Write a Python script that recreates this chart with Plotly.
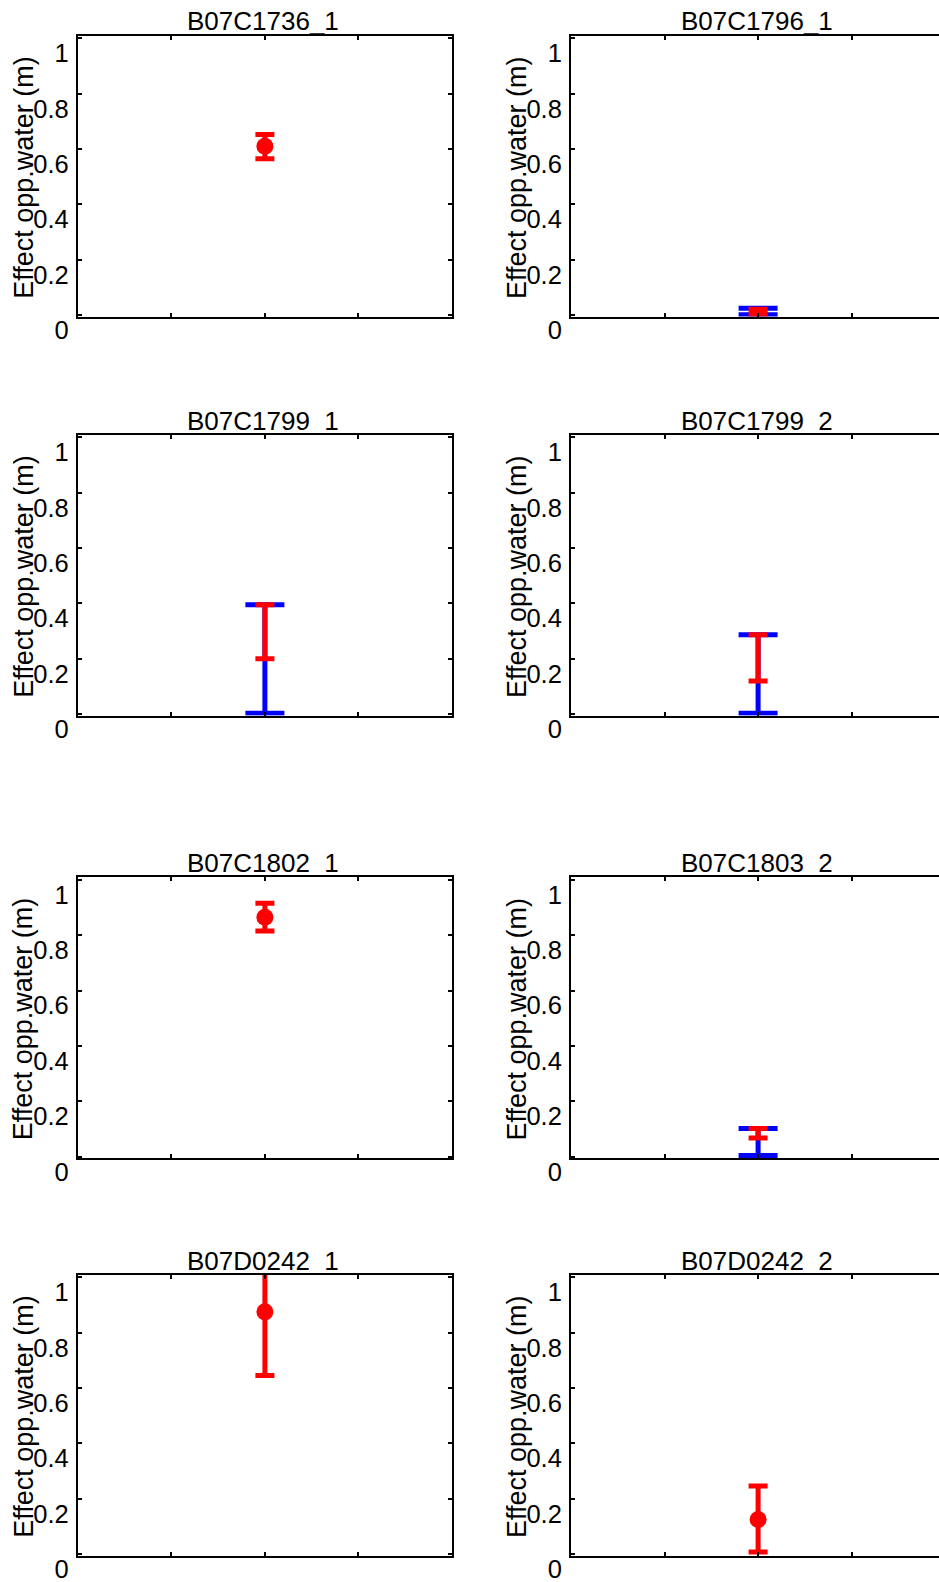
import plotly.graph_objects as go

# Effect on open water per station: red = estimate (optional dot) with its
# lower/upper bound, blue = wider range shown behind it where available.
stations = ["B07C1736_1", "B07C1796_1", "B07C1799_1", "B07C1799_2",
            "B07C1802_1", "B07C1803_2", "B07D0242_1", "B07D0242_2"]
red_mid = [0.61, None, None, None, 0.865, None, 0.875, 0.125]
red_low = [0.565, 0.003, 0.20, 0.12, 0.815, 0.067, 0.645, 0.008]
red_high = [0.652, 0.021, 0.395, 0.287, 0.915, 0.102, 1.105, 0.246]
blue_low = [None, 0.001, 0.003, 0.003, None, 0.004, None, None]
blue_high = [None, 0.025, 0.395, 0.287, None, 0.102, None, None]

y_tick_vals = [0, 0.2, 0.4, 0.6, 0.8, 1]
y_tick_text = ["0", "0.2", "0.4", "0.6", "0.8", "1"]
x_tick_vals = [0, 0.5, 1, 1.5, 2]
y_title = "Effect opp.water (m)"
x_station = 1.0

W, H = 939, 1582
FONT = "Liberation Sans, Arial, sans-serif"
RED, BLUE = "#ff0000", "#0000ff"

col_left = [77.8, 571.0]
box_w = 374.2
row_top = [35.5, 434.5, 877.0, 1274.5]
box_h = 281.0
y_range = [-0.005, 1.01]


def px_x(v):
    return v / W


def px_y(v):
    return 1 - v / H


fig = go.Figure()
annotations = []

for i, name in enumerate(stations):
    r, c = divmod(i, 2)
    left = col_left[c]
    right = min(left + box_w, W)
    top = row_top[r]
    bottom = top + box_h
    n = i + 1
    xa = "x" if n == 1 else f"x{n}"
    ya = "y" if n == 1 else f"y{n}"

    # wider (blue) range first so the estimate sits on top
    if blue_low[i] is not None:
        mid = (blue_low[i] + blue_high[i]) / 2
        fig.add_trace(go.Scatter(
            x=[x_station], y=[mid], mode="markers",
            marker=dict(size=0, color=BLUE, opacity=0),
            error_y=dict(type="data", symmetric=False,
                         array=[blue_high[i] - mid],
                         arrayminus=[mid - blue_low[i]],
                         color=BLUE, thickness=5, width=19.5),
            xaxis=xa, yaxis=ya, showlegend=False, hoverinfo="skip"))

    has_dot = red_mid[i] is not None
    centre = red_mid[i] if has_dot else (red_low[i] + red_high[i]) / 2
    fig.add_trace(go.Scatter(
        x=[x_station], y=[centre], mode="markers",
        marker=dict(size=17 if has_dot else 0, color=RED,
                    opacity=1 if has_dot else 0, line=dict(width=0)),
        error_y=dict(type="data", symmetric=False,
                     array=[red_high[i] - centre],
                     arrayminus=[centre - red_low[i]],
                     color=RED, thickness=5, width=9.5),
        xaxis=xa, yaxis=ya, showlegend=False, hoverinfo="skip"))

    x_span = 2 * (right - left) / box_w
    xkey = "xaxis" if n == 1 else f"xaxis{n}"
    ykey = "yaxis" if n == 1 else f"yaxis{n}"
    fig.layout[xkey] = dict(
        domain=[px_x(left), px_x(right)], range=[0, x_span], anchor=ya,
        tickvals=x_tick_vals, showticklabels=False, ticks="inside",
        ticklen=4, tickwidth=1.5, tickcolor="black",
        showline=True, linecolor="black", linewidth=2, mirror="ticks",
        showgrid=False, zeroline=False, fixedrange=True, automargin=False)
    fig.layout[ykey] = dict(
        domain=[px_y(bottom), px_y(top)], range=y_range, anchor=xa,
        tickvals=y_tick_vals, ticktext=y_tick_text, ticks="inside",
        ticklen=4, tickwidth=1.5, tickcolor="black",
        ticklabelshift=15, ticklabelstandoff=2, ticklabeloverflow="allow",
        tickfont=dict(family=FONT, size=25.5, color="black"),
        showline=True, linecolor="black", linewidth=2,
        mirror="ticks" if c == 0 else False,
        showgrid=False, zeroline=False, fixedrange=True, automargin=False)

    # panel title
    annotations.append(dict(
        text=name, xref="paper", yref="paper",
        x=px_x(left + box_w / 2 - 1.5), y=px_y(top),
        xanchor="center", yanchor="bottom", yshift=-3, showarrow=False,
        font=dict(family=FONT, size=26, color="black")))
    # y-axis title
    annotations.append(dict(
        text=y_title, xref="paper", yref="paper",
        x=px_x(left - 54.5), y=px_y(top + box_h / 2 + 1.5),
        xanchor="center", yanchor="middle", textangle=-90, showarrow=False,
        font=dict(family=FONT, size=27, color="black")))

fig.update_layout(
    width=W, height=H, autosize=False,
    margin=dict(l=0, r=0, t=0, b=0, pad=0),
    paper_bgcolor="white", plot_bgcolor="white",
    annotations=annotations, showlegend=False)

fig.write_html("out.html", config={"displayModeBar": False})
